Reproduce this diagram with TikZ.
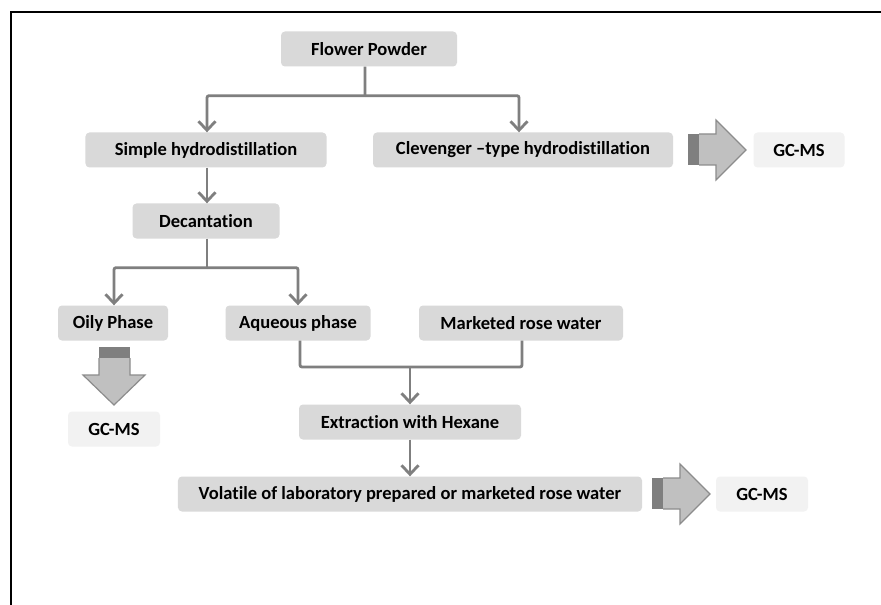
\documentclass[tikz,border=0pt]{standalone}
\usepackage{fontspec}
\setmainfont{Carlito}[Ligatures={NoCommon}]
\usetikzlibrary{arrows.meta,calc}
\definecolor{boxgray}{HTML}{D9D9D9}
\definecolor{gclight}{HTML}{F2F2F2}
\definecolor{lnk}{HTML}{7F7F7F}
\definecolor{barrow}{HTML}{C0C0C0}
\definecolor{barrowedge}{HTML}{8C8C8C}
\definecolor{bdark}{HTML}{7F7F7F}
\tikzset{
  box/.style={draw=none,fill=boxgray,rounded corners=4bp,minimum height=35bp,inner sep=0pt,
     font=\fontsize{18.6}{20}\selectfont\bfseries,text=black},
  gcbox/.style={box,fill=gclight},
  lnkline/.style={draw=lnk,line width=2.8bp},
  arr/.style={lnkline,-{Straight Barb[length=9bp,width=17bp,line width=2.8bp]}},
  bigarr/.style={fill=barrow,draw=barrowedge,line width=1.2bp,line join=miter},
  darktail/.style={fill=bdark,draw=none}
}
\begin{document}
\begin{tikzpicture}[x=1bp,y=-1bp]
\useasboundingbox (0,0) rectangle (881,605);
\fill[white] (0,0) rectangle (881,605);
% frame
\draw[black,line width=2.4bp] (11,605) -- (11,12) -- (881,12);

% nodes
\node[box,minimum width=176bp] (fp) at (369,49) {Flower Powder};
\node[box,minimum width=241bp] (sh) at (206,150) {Simple hydrodistillation};
\node[box,minimum width=300bp] (cl) at (523,150) {Clevenger \textendash type hydrodistillation};
\node[gcbox,minimum width=91bp] (gc1) at (799,150) {GC-MS};
\node[box,minimum width=147bp] (dec) at (206,221) {Decantation};
\node[box,minimum width=110bp] (oily) at (113,323) {Oily Phase};
\node[box,minimum width=145bp] (aq) at (298,323) {Aqueous phase};
\node[box,minimum width=204bp] (mrw) at (521,323) {Marketed rose water};
\node[gcbox,minimum width=92bp] (gc2) at (114,429) {GC-MS};
\node[box,minimum width=222bp] (ext) at (410,422) {Extraction with Hexane};
\node[box,minimum width=464bp] (vol) at (410,494) {Volatile of laboratory prepared or marketed rose water};
\node[gcbox,minimum width=92bp] (gc3) at (762,494) {GC-MS};

% connectors
\coordinate (j1) at ($(fp.south)+(-4,29)$);
\draw[lnkline] ([xshift=-4bp]fp.south) -- (j1);
\draw[arr,rounded corners=2bp] (j1) -| ([xshift=1bp]sh.north);
\draw[arr,rounded corners=2bp] (j1) -| ([xshift=-4bp]cl.north);
\draw[arr] ([xshift=1bp]sh.south) -- ([xshift=1bp]dec.north);
\coordinate (j2) at ($(dec.south)+(1,29)$);
\draw[lnkline] ([xshift=1bp]dec.south) -- (j2);
\draw[arr,rounded corners=2bp] (j2) -| ([xshift=1bp]oily.north);
\draw[arr,rounded corners=2bp] (j2) -| (aq.north);
\coordinate (j3) at (410,367);
\draw[lnkline,rounded corners=2bp] ([xshift=2bp]aq.south) |- (j3) -| ([xshift=1bp]mrw.south);
\draw[arr] (j3) -- (ext.north);
\draw[arr] (ext.south) -- (vol.north);

% block arrows
\fill[darktail] (688,134) rectangle (700,165);
\draw[bigarr] (699,134) -- (716,134) -- (716,120) -- (746,150) -- (716,180) -- (716,165) -- (699,165);
\fill[darktail] (652,478) rectangle (664,509);
\draw[bigarr] (663,478) -- (680,478) -- (680,464) -- (710,494) -- (680,524) -- (680,509) -- (663,509);
\fill[darktail] (99,347) rectangle (130,359);
\draw[bigarr] (99,358) -- (99,375) -- (83,375) -- (114,405) -- (145,375) -- (130,375) -- (130,358);
\end{tikzpicture}
\end{document}
